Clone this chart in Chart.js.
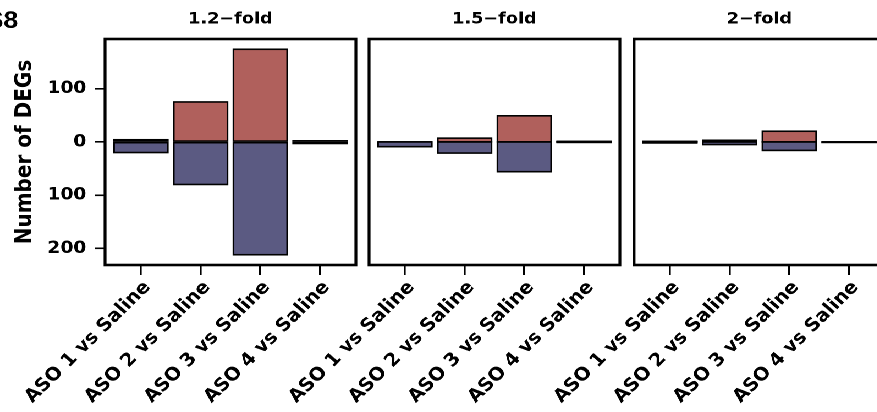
<!DOCTYPE html>
<html>
<head>
<meta charset="utf-8">
<script src="https://cdn.jsdelivr.net/npm/chart.js@4.4.1/dist/chart.umd.min.js"></script>
<style>
  html, body { margin: 0; padding: 0; background: #fff; overflow: hidden; width: 877px; height: 412px; }
  #wrap { position: relative; width: 820px; height: 412px; transform: scaleX(1.1); transform-origin: 0 0; }
  #wrap canvas { position: absolute; left: 0; top: 0; }
</style>
</head>
<body>
<div id="wrap">
  <canvas id="p0" width="820" height="412" style="width:820px;height:412px"></canvas>
  <canvas id="p1" width="820" height="412" style="width:820px;height:412px"></canvas>
  <canvas id="p2" width="820" height="412" style="width:820px;height:412px"></canvas>
</div>
<script>
// Comparisons shown on every panel
const categories = ['ASO 1 vs Saline', 'ASO 2 vs Saline', 'ASO 3 vs Saline', 'ASO 4 vs Saline'];
// Fold-change cut-offs, one panel each
const folds = ['1.2\u2212fold', '1.5\u2212fold', '2\u2212fold'];
// Up-regulated gene counts per comparison
const up12 = [4, 75, 174, 2];
const up15 = [0, 7, 49, 1];
const up20 = [1, 3, 20, 0];
// Down-regulated gene counts per comparison (drawn below zero)
const down12 = [20, 80, 212, 3];
const down15 = [9, 21, 56, 1];
const down20 = [2, 5, 16, 1];
// Y axis ticks (labels show absolute counts)
const yTicks = [-200, -100, 0, 100];
const yLabel = 'Number of DEGs';
const figureTag = 'S8';

const UP_COLOR = '#B0605C';
const DOWN_COLOR = '#5B5A82';
const FONT = '"DejaVu Sans", Verdana, sans-serif';
const TAG_FONT = '"Liberation Sans", Arial, sans-serif';
const Y_MIN = -231.3, Y_MAX = 193.3;

const PANEL_W = 228;
const CANVAS_W = 820;
const panels = [
  { id: 'p0', title: folds[0], up: up12, down: down12, left: 95.5,  showY: true },
  { id: 'p1', title: folds[1], up: up15, down: down15, left: 335.5, showY: false },
  { id: 'p2', title: folds[2], up: up20, down: down20, left: 576.4, showY: false }
];

// Outline every bar with a stroke centred on its edges, so empty bars still show a rule
const barOutline = {
  id: 'barOutline',
  afterDatasetsDraw(chart) {
    const ctx = chart.ctx;
    ctx.save();
    ctx.strokeStyle = '#000';
    ctx.lineWidth = 1.6;
    chart.data.datasets.forEach((ds, di) => {
      chart.getDatasetMeta(di).data.forEach((el) => {
        const { x, y, base, width } = el.getProps(['x', 'y', 'base', 'width'], true);
        ctx.strokeRect(x - width / 2, Math.min(y, base), width, Math.abs(base - y));
      });
    });
    ctx.restore();
  }
};

const panelBorder = {
  id: 'panelBorder',
  afterDatasetsDraw(chart) {
    const a = chart.chartArea, ctx = chart.ctx;
    ctx.save();
    ctx.strokeStyle = '#000';
    ctx.lineWidth = 2.6;
    ctx.strokeRect(a.left, a.top, a.right - a.left, a.bottom - a.top);
    ctx.restore();
  }
};

const tagPlugin = {
  id: 'figTag',
  afterDraw(chart, args, opts) {
    if (!opts || !opts.text) return;
    const ctx = chart.ctx;
    ctx.save();
    ctx.font = 'bold 24px ' + TAG_FONT;
    ctx.fillStyle = '#000';
    ctx.textAlign = 'right';
    ctx.textBaseline = 'alphabetic';
    ctx.fillText(opts.text, 16.5, 28);
    ctx.restore();
  }
};

panels.forEach((p) => {
  const toPts = (arr, sign) => arr.map((v, i) => ({ x: i, y: sign * v }));
  new Chart(document.getElementById(p.id), {
    type: 'bar',
    data: {
      datasets: [
        { label: 'Up', data: toPts(p.up, 1), backgroundColor: UP_COLOR },
        { label: 'Down', data: toPts(p.down, -1), backgroundColor: DOWN_COLOR }
      ]
    },
    options: {
      responsive: false,
      animation: false,
      devicePixelRatio: 2,
      events: [],
      datasets: {
        bar: {
          borderWidth: 0,
          inflateAmount: 0,
          barPercentage: 0.9,
          categoryPercentage: 1.0
        }
      },
      layout: {
        padding: {
          left: p.showY ? 0 : p.left,
          right: CANVAS_W - (p.left + PANEL_W),
          top: 0,
          bottom: 0
        }
      },
      plugins: {
        legend: { display: false },
        tooltip: { enabled: false },
        title: {
          display: true,
          fullSize: false,
          text: p.title,
          color: '#000',
          font: { family: FONT, size: 16, weight: 'bold', lineHeight: 1.2 },
          padding: { top: 9.6, bottom: 10.2 }
        },
        figTag: { text: p.showY ? figureTag : '' }
      },
      scales: {
        x: {
          type: 'linear',
          stacked: true,
          min: -0.6,
          max: 3.6,
          offset: false,
          afterBuildTicks: (s) => { s.ticks = categories.map((c, i) => ({ value: i })); },
          afterFit: (s) => { s.height = 147; s.paddingLeft = 0; s.paddingRight = 0; },
          ticks: {
            callback: (v) => categories[v],
            autoSkip: false,
            minRotation: 47,
            maxRotation: 47,
            color: '#000',
            padding: 2,
            labelOffset: 6,
            font: { family: FONT, size: 18, weight: 'bold' }
          },
          grid: { offset: false, drawOnChartArea: false, drawTicks: true, tickLength: 10, color: '#000', lineWidth: 1.8 },
          border: { display: false }
        },
        y: {
          stacked: true,
          display: p.showY,
          min: Y_MIN,
          max: Y_MAX,
          afterBuildTicks: (s) => { s.ticks = yTicks.map((v) => ({ value: v })); },
          afterFit: (s) => { s.width = p.showY ? p.left : 0; s.paddingTop = 0; s.paddingBottom = 0; },
          ticks: {
            callback: (v) => String(Math.abs(v)),
            color: '#000',
            padding: 8,
            font: { family: FONT, size: 17, weight: 'bold' }
          },
          grid: { drawOnChartArea: false, drawTicks: true, tickLength: 9, color: '#000', lineWidth: 1.6 },
          border: { display: false },
          title: {
            display: true,
            text: yLabel,
            color: '#000',
            font: { family: FONT, size: 20, weight: 'bold', lineHeight: 1.2 },
            padding: { top: 11, bottom: 0 }
          }
        }
      }
    },
    plugins: [barOutline, panelBorder, tagPlugin]
  });
});
</script>
</body>
</html>
